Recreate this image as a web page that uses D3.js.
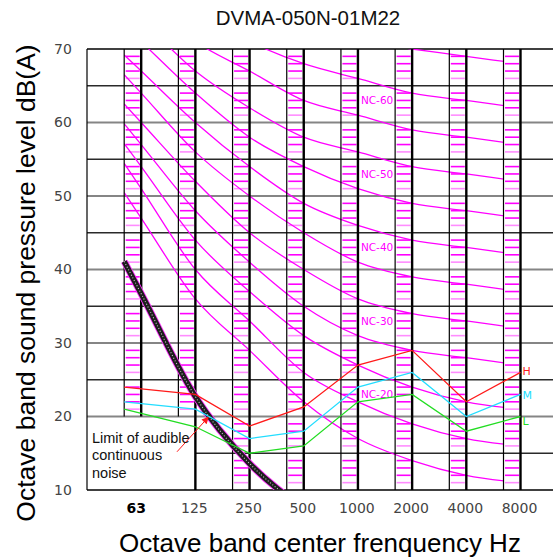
<!DOCTYPE html>
<html>
<head>
<meta charset="utf-8">
<script src="https://cdn.jsdelivr.net/npm/d3@7"></script>
<style>
  body { margin: 0; background: #fff; }
  svg { display: block; }
</style>
</head>
<body>
<div id="vis"></div>
<script>
const bands = ["63", "125", "250", "500", "1000", "2000", "4000", "8000"];
const yTicks = [10, 20, 30, 40, 50, 60, 70];

// NC curves (dB per octave band)
const ncLevels = [15, 20, 25, 30, 35, 40, 45, 50, 55, 60, 65, 70];
const ncTable = [
  [47, 36, 29, 22, 17, 14, 12, 11],
  [51, 40, 33, 26, 22, 19, 17, 16],
  [54, 44, 37, 31, 27, 24, 22, 21],
  [57, 48, 41, 35, 31, 29, 28, 27],
  [60, 52, 45, 40, 36, 34, 33, 32],
  [64, 56, 50, 45, 41, 39, 38, 37],
  [67, 60, 54, 49, 46, 44, 43, 42],
  [71, 64, 58, 54, 51, 49, 48, 47],
  [74, 67, 62, 58, 56, 54, 53, 52],
  [77, 71, 67, 63, 61, 59, 58, 57],
  [80, 75, 71, 68, 66, 64, 63, 62],
  [83, 79, 75, 72, 71, 70, 69, 68]
];
const ncLabelled = [20, 30, 40, 50, 60];

// measured fan speeds
const seriesH = [24, 23, 18.7, 21.3, 27, 29, 22, 26];
const seriesM = [22, 21, 17, 18, 24, 26, 20, 23];
const seriesL = [21, 18.6, 15, 16, 22, 23, 18, 20];
const seriesNames = ["H", "M", "L"];
const seriesColors = ["#ff1a1a", "#22ddff", "#22dd22"];

// limit of audible continuous noise (63..500)
const limitValues = [36.7, 22.7, 13.6, 7.5];

const W = 553, H = 558;
const colW = 17;

const svg = d3.select('#vis').append('svg')
  .attr('width', W).attr('height', H);

svg.append('rect').attr('width', W).attr('height', H).attr('fill', '#fff');

const x = d3.scaleLinear().domain([-1, 7]).range([87, 520.5]);
const y = d3.scaleLinear().domain([10, 70]).range([490, 49]);
const step = x(1) - x(0);
const leftIdx = -colW / step;  // index of the 63 column left edge

const defs = svg.append('defs');
defs.append('clipPath').attr('id', 'ncClip').append('rect')
  .attr('x', x(0) - colW).attr('y', y(70))
  .attr('width', x(7) - x(0)).attr('height', y(10) - y(70));
defs.append('clipPath').attr('id', 'plotClip').append('rect')
  .attr('x', x(-1)).attr('y', y(70))
  .attr('width', W - x(-1)).attr('height', y(10) - y(70));
defs.append('marker').attr('id', 'arrow')
  .attr('viewBox', '0 0 10 10').attr('refX', 9).attr('refY', 5)
  .attr('markerWidth', 9).attr('markerHeight', 7).attr('markerUnits', 'userSpaceOnUse')
  .attr('orient', 'auto')
  .append('path').attr('d', 'M0,0 L10,5 L0,10 Z').attr('fill', '#ff1a1a');

// hatching in each band column
const hatch = [];
bands.forEach((b, i) => {
  for (let v = 11; v < 70; v++) {
    if (v % 5 === 0) continue;
    if (i <= 1 && v < 20) continue;
    hatch.push({ i, v });
  }
});
svg.append('g').selectAll('line').data(hatch).join('line')
  .attr('x1', d => x(d.i) - colW + 1.5)
  .attr('x2', d => x(d.i) - 1.5)
  .attr('y1', d => y(d.v)).attr('y2', d => y(d.v))
  .attr('stroke', '#ff00ff')
  .attr('stroke-width', 1.6)
  .attr('stroke-opacity', d => d.v % 5 === 1 ? 0.45 : 1);

// horizontal grid
const gridVals = d3.range(15, 70, 5);
svg.append('g').selectAll('line').data(gridVals).join('line')
  .attr('x1', d => d === 15 ? x(1) : x(-1))
  .attr('x2', W)
  .attr('y1', d => y(d)).attr('y2', d => y(d))
  .attr('stroke', d => d % 10 === 0 ? '#858585' : '#2a2a2a')
  .attr('stroke-width', d => d % 10 === 0 ? 2 : 1.3);
svg.append('g').selectAll('line').data([10, 70]).join('line')
  .attr('x1', x(-1)).attr('x2', W)
  .attr('y1', d => y(d)).attr('y2', d => y(d))
  .attr('stroke', '#000').attr('stroke-width', 1.5);

// NC curves
const ncLine = d3.line()
  .x(d => x(d[0])).y(d => y(d[1]))
  .curve(d3.curveMonotoneX);
function extended(vals) {
  const pts = vals.map((v, i) => [i, v]);
  const v0 = vals[0] + (vals[1] - vals[0]) * leftIdx;
  return [[leftIdx, v0]].concat(pts);
}
svg.append('g').attr('clip-path', 'url(#ncClip)')
  .selectAll('path').data(ncTable).join('path')
  .attr('d', d => ncLine(extended(d)))
  .attr('fill', 'none')
  .attr('stroke', '#ff00ff')
  .attr('stroke-width', 1.3);

svg.append('g').selectAll('text').data(ncLabelled).join('text')
  .attr('x', x(4) + 3)
  .attr('y', d => y(d + 3))
  .attr('dy', '0.36em')
  .attr('fill', '#ff00ff')
  .attr('font-family', 'DejaVu Sans, sans-serif')
  .attr('font-size', 10.5)
  .text(d => 'NC-' + d);

// vertical lines
const vLines = [];
bands.forEach((b, i) => {
  vLines.push({ xv: x(i) - colW, bold: false, low: i <= 1 ? 20 : 10 });
  vLines.push({ xv: x(i), bold: true, low: i === 0 ? 20 : 10 });
});
vLines.push({ xv: x(-1), bold: false, low: 10 });
svg.append('g').selectAll('line').data(vLines).join('line')
  .attr('x1', d => d.xv).attr('x2', d => d.xv)
  .attr('y1', y(70)).attr('y2', d => y(d.low))
  .attr('stroke', '#000')
  .attr('stroke-width', d => d.bold ? 2.4 : 1.2);

// limit of audible continuous noise
const limitG = svg.append('g').attr('clip-path', 'url(#plotClip)');
const limitPath = ncLine(extended(limitValues));
limitG.append('path').attr('d', limitPath).attr('fill', 'none')
  .attr('stroke', '#ff33ff').attr('stroke-width', 7);
limitG.append('path').attr('d', limitPath).attr('fill', 'none')
  .attr('stroke', '#1e1e1e').attr('stroke-width', 5.4);
limitG.append('path').attr('d', limitPath).attr('fill', 'none')
  .attr('stroke', '#c8c8c8').attr('stroke-width', 1.1)
  .attr('stroke-dasharray', '1,2');

// measured series
const seriesLine = d3.line()
  .x((d, i) => i === 0 ? x(0) - colW : x(i))
  .y(d => y(d));
const series = [seriesH, seriesM, seriesL];
svg.append('g').selectAll('path').data(series).join('path')
  .attr('d', d => seriesLine(d))
  .attr('fill', 'none')
  .attr('stroke', (d, i) => seriesColors[i])
  .attr('stroke-width', 1.3);

const labelShift = [-1, 1, 5];
svg.append('g').selectAll('text').data(series).join('text')
  .attr('x', x(7) + 2)
  .attr('y', (d, i) => y(d[d.length - 1]) + labelShift[i])
  .attr('dy', '0.36em')
  .attr('fill', (d, i) => seriesColors[i])
  .attr('font-family', 'DejaVu Sans, sans-serif')
  .attr('font-size', 11)
  .text((d, i) => seriesNames[i]);

// annotation
svg.append('line')
  .attr('x1', x(0.661)).attr('y1', y(15.2))
  .attr('x2', x(1.238)).attr('y2', y(19.9))
  .attr('stroke', '#ff1a1a').attr('stroke-width', 1)
  .attr('marker-end', 'url(#arrow)');
const note = svg.append('text')
  .attr('font-family', 'Liberation Sans, Arial, sans-serif')
  .attr('font-size', 14.5)
  .attr('fill', '#111');
["Limit of audible", "continuous", "noise"].forEach((t, k) => {
  note.append('tspan').attr('x', 92).attr('y', 443 + k * 17.3).text(t);
});

// y ticks
const yAxis = svg.append('g')
  .attr('transform', `translate(${x(-1) - 16},0)`)
  .call(d3.axisLeft(y).tickValues(yTicks).tickSize(0).tickPadding(0));
yAxis.select('.domain').remove();
yAxis.selectAll('text')
  .attr('text-anchor', 'middle').attr('x', -8)
  .attr('font-family', 'DejaVu Sans, sans-serif')
  .attr('font-size', 14)
  .attr('fill', '#444');

// x ticks
svg.append('g').selectAll('text').data(bands).join('text')
  .attr('x', (d, i) => x(i) - (i === 0 ? 5 : 1))
  .attr('y', 513)
  .attr('text-anchor', 'middle')
  .attr('font-family', 'DejaVu Sans, sans-serif')
  .attr('font-size', 14)
  .attr('font-weight', (d, i) => i === 0 ? 'bold' : 'normal')
  .attr('fill', (d, i) => i === 0 ? '#000' : '#444')
  .text(d => d);

// titles
svg.append('text')
  .attr('x', 308).attr('y', 25)
  .attr('text-anchor', 'middle')
  .attr('font-family', 'Liberation Sans, Arial, sans-serif')
  .attr('font-size', 20.5)
  .attr('fill', '#111')
  .text('DVMA-050N-01M22');
svg.append('text')
  .attr('transform', 'translate(35,283) rotate(-90)')
  .attr('text-anchor', 'middle')
  .attr('font-family', 'Liberation Sans, Arial, sans-serif')
  .attr('font-size', 26.5)
  .attr('fill', '#000')
  .text('Octave band sound pressure level dB(A)');
svg.append('text')
  .attr('x', 320).attr('y', 552)
  .attr('text-anchor', 'middle')
  .attr('font-family', 'Liberation Sans, Arial, sans-serif')
  .attr('font-size', 26)
  .attr('fill', '#000')
  .text('Octave band center frenquency Hz');
</script>
</body>
</html>
